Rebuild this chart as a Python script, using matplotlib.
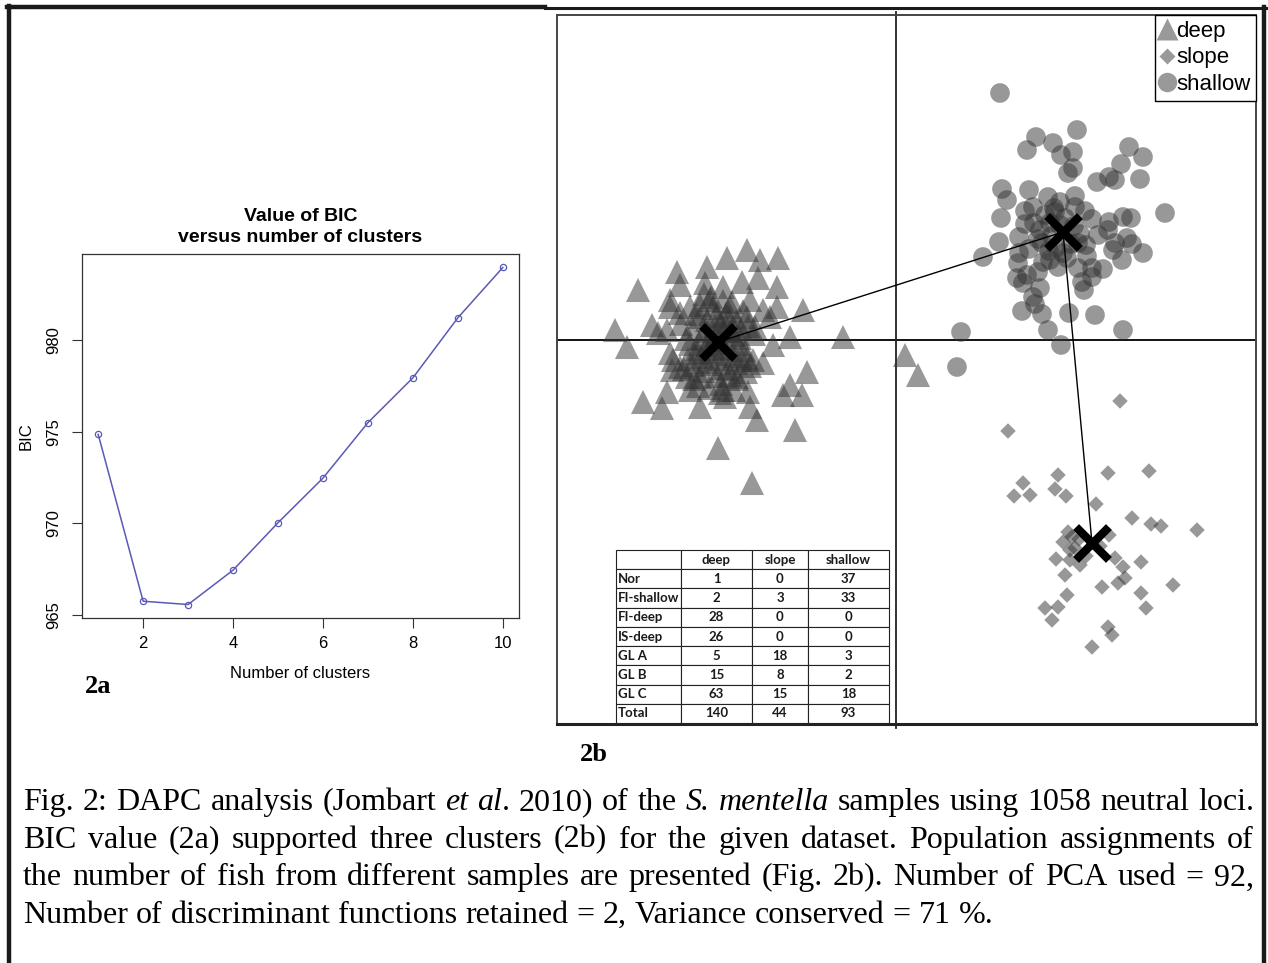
import matplotlib.pyplot as plt
from matplotlib.lines import Line2D
from matplotlib.table import Table

W, H = 1268, 963

# ---- 2a: BIC curve
clusters = [1, 2, 3, 4, 5, 6, 7, 8, 9, 10]
bic = [974.87, 965.75, 965.57, 967.45, 970.04, 972.48, 975.51, 977.96, 981.24, 983.99]

# ---- 2b: DAPC scores (LD1, LD2)
deep_pts = [
    (-14.9, 9.0), (-16.9, 8.2), (-13.6, 8.0), (-11.8, 8.2), (-21.9, 6.8), (-18.9, 7.3),
    (-25.8, 5.0), (-15.4, 5.8), (-13.8, 6.2), (-11.9, 5.3), (-21.6, 5.5), (-19.1, 5.7),
    (-17.3, 5.3), (-22.6, 4.0), (-20.6, 3.3), (-14.6, 4.0), (-11.9, 3.3), (-9.3, 3.0),
    (-13.3, 3.0), (-28.1, 1.0), (-26.9, -0.7), (-24.4, 1.5), (-22.9, 1.0), (-21.6, 2.7),
    (-10.6, 0.3), (-5.3, 0.3), (-12.3, -0.5), (-22.6, -1.3), (-21.6, -2.7), (-22.4, -3.0),
    (-19.9, -1.3), (-14.3, -2.0), (-13.3, -2.3), (-8.9, -3.2), (-10.6, -4.5), (-11.3, -5.5),
    (-9.4, -5.5), (-25.3, -6.2), (-22.9, -5.2), (-23.4, -6.8), (-20.6, -5.0), (-19.6, -6.7),
    (-17.1, -5.7), (-17.3, -5.0), (-14.8, -5.2), (-14.6, -6.7), (-13.9, -8.0), (-10.1, -9.0),
    (-17.8, -10.8), (-14.4, -14.3), (0.9, -1.5), (2.2, -3.5),
    (-22.6, 3.3), (-23.8, 0.7), (-22.3, -2.0), (-20.9, -3.7), (-15.9, -3.7), (-15.4, -2.0),
    (-19.6, -3.7), (-14.1, 1.3), (-12.6, 2.3), (-16.6, 3.3), (-18.6, 4.0), (-19.6, 2.3),
    (-14.9, 2.3),
    (-18.0, 0.5), (-17.2, -0.8), (-18.8, -1.2), (-16.5, 0.9), (-19.5, 0.2), (-17.6, 1.8),
    (-16.1, -1.6), (-18.4, -2.4), (-19.9, -0.9), (-15.6, 0.2), (-17.0, 2.6), (-18.9, 2.0),
    (-20.4, 1.2), (-16.8, -2.9), (-15.2, -1.0), (-19.3, -3.1), (-17.9, -3.6), (-20.8, -1.9),
    (-16.0, 1.9), (-18.3, 3.2), (-14.8, 1.4), (-21.0, 0.1), (-17.5, -4.4), (-15.9, -3.9),
    (-19.6, 3.5), (-16.4, 3.8), (-18.7, -4.8), (-20.2, -3.9), (-14.6, -2.6), (-17.1, 0.0),
    (-18.2, -0.3), (-16.9, 1.2), (-19.1, 0.9), (-17.7, -1.9), (-15.8, -0.4), (-20.0, 2.6),
    (-14.2, 0.6), (-18.5, 4.3), (-16.2, -5.0), (-21.2, -2.9), (-17.3, 3.9), (-15.3, 2.9),
    (-19.8, -4.6), (-16.6, -3.5), (-18.1, 1.4), (-17.4, -2.8), (-20.6, -0.4), (-15.0, -3.2),
    (-19.0, -2.2), (-16.3, 0.5), (-17.8, -0.9), (-18.6, 0.0), (-17.0, -1.4), (-16.7, 2.2),
    (-19.4, -1.7), (-18.0, 2.4), (-15.5, 1.1), (-20.3, -2.5), (-16.0, -2.3), (-19.2, 4.6),
    (-17.6, -5.3), (-14.9, -1.8), (-21.5, 1.6), (-18.9, -0.5), (-17.3, 0.9),
]
slope_pts = [
    (22.4, -6.1), (11.2, -9.1), (16.2, -13.5), (21.2, -13.3), (25.3, -13.1), (12.7, -14.3),
    (13.4, -15.5), (11.8, -15.6), (15.9, -14.9), (17.0, -15.6), (20.0, -16.4), (23.6, -17.8),
    (25.5, -18.4), (26.5, -18.6), (30.1, -19.0), (17.2, -19.2), (17.6, -19.7), (17.4, -21.0),
    (16.0, -21.9), (17.4, -22.0), (18.4, -22.5), (21.9, -21.8), (22.7, -22.7), (24.5, -22.2),
    (16.9, -23.5), (22.9, -23.8), (22.2, -24.3), (20.6, -24.7), (27.7, -24.5), (24.5, -25.3),
    (17.1, -25.5), (14.9, -26.8), (16.2, -26.7), (25.0, -26.8), (15.6, -28.0), (21.2, -28.7),
    (21.6, -29.5), (19.6, -30.7), (18.3, -19.9), (20.4, -20.6), (17.9, -20.8), (21.3, -19.5),
    (19.0, -21.6), (16.7, -20.2),
]
shallow_pts = [
    (10.4, 24.7), (18.1, 21.0), (14.0, 20.3), (13.1, 19.0), (15.7, 19.7), (16.5, 18.5),
    (17.7, 18.8), (17.2, 16.7), (17.7, 17.2), (23.3, 19.3), (24.7, 18.3), (22.5, 17.6),
    (21.3, 16.3), (20.1, 15.8), (21.9, 16.0), (24.4, 16.1), (10.6, 15.1), (11.1, 14.0),
    (13.3, 15.0), (15.2, 14.3), (16.4, 13.8), (17.9, 13.3), (13.7, 13.3), (10.5, 12.2),
    (12.9, 11.6), (13.8, 11.7), (19.6, 12.1), (21.3, 11.8), (22.7, 12.3), (23.5, 12.2),
    (26.9, 12.7), (21.2, 11.0), (10.3, 9.8), (12.3, 10.3), (14.4, 11.0), (15.4, 11.7),
    (15.9, 12.8), (14.6, 9.7), (18.2, 9.7), (19.0, 9.5), (21.9, 9.7), (23.1, 10.2),
    (23.6, 9.6), (24.7, 8.7), (22.6, 8.0), (21.7, 9.0), (8.7, 8.3), (12.3, 8.7),
    (12.2, 7.7), (14.2, 6.8), (15.4, 8.0), (16.7, 8.7), (18.2, 7.2), (19.6, 7.2),
    (20.7, 7.1), (12.1, 6.2), (13.1, 6.5), (14.4, 5.2), (13.7, 4.3), (12.7, 5.7),
    (18.6, 5.8), (19.6, 6.3), (12.6, 2.9), (14.6, 2.6), (17.3, 2.7), (19.9, 2.5),
    (15.2, 1.0), (22.7, 1.0), (6.5, 0.8), (16.5, -0.5), (6.1, -2.7),
    (15.6, 10.4), (16.9, 12.2), (17.8, 11.4), (16.0, 9.2), (17.5, 9.6), (14.9, 12.5),
    (18.4, 10.6), (15.3, 8.9), (16.4, 11.5), (17.1, 8.2), (14.2, 10.1), (18.9, 12.9),
    (15.8, 13.2), (13.3, 9.1), (17.9, 14.4), (16.2, 7.3), (19.1, 8.4), (14.7, 7.8),
    (20.2, 10.5), (12.9, 12.9), (18.8, 5.0), (13.9, 3.6),
]
groups = ["deep", "slope", "shallow"]
centroid_x = [-17.8, 19.6, 16.7]
centroid_y = [-0.2, -20.3, 10.8]
mst_edges = [(0, 2), (2, 1)]

# ---- assignment table
table_cols = ["", "deep", "slope", "shallow"]
table_rows = ["Nor", "FI-shallow", "FI-deep", "IS-deep", "GL A", "GL B", "GL C", "Total"]
deep_counts = [1, 2, 28, 26, 5, 15, 63, 140]
slope_counts = [0, 3, 0, 0, 18, 8, 15, 44]
shallow_counts = [37, 33, 0, 0, 3, 2, 18, 93]

caption_lines = [
    "Fig. 2: DAPC analysis (Jombart _et_ _al_. 2010) of the _S._ _mentella_ samples using 1058 neutral loci.",
    "BIC value (2a) supported three clusters (2b) for the given dataset. Population assignments of",
    "the number of fish from different samples are presented (Fig. 2b). Number of PCA used = 92,",
    "Number of discriminant functions retained = 2, Variance conserved = 71 %.",
]


def rect(x0, y0, x1, y1):
    return [x0 / W, 1 - y1 / H, (x1 - x0) / W, (y1 - y0) / H]


plt.rcParams['font.family'] = ['Liberation Sans', 'DejaVu Sans']
fig = plt.figure(figsize=(W / 100, H / 100), dpi=100)

# outer page frame
for xs, ys, lw in [([7, 545], [7, 7], 3.2), ([545, 1266], [8, 8], 2.2),
                   ([9, 9], [6, 963], 3.2), ([1264, 1264], [7, 963], 3.2)]:
    fig.add_artist(Line2D([x / W for x in xs], [1 - y / H for y in ys],
                          color='#1a1a1a', lw=lw, transform=fig.transFigure))

# ---------- 2a
ax1 = fig.add_axes(rect(82, 254, 519, 618))
ax1.plot(clusters, bic, color='#5a5ab6', lw=1.1, marker='o', mfc='none', ms=4.5, mew=0.9)
ax1.margins(x=0.04, y=0.04)
ax1.set_xticks([2, 4, 6, 8, 10])
ax1.set_yticks([965, 970, 975, 980])
ax1.set_yticklabels(['965', '970', '975', '980'], rotation=90, va='center')
ax1.tick_params(axis='both', labelsize=12, length=7, width=0.8, color='#333333')
ax1.tick_params(axis='y', pad=8)
ax1.tick_params(axis='x', pad=6)
for s in ax1.spines.values():
    s.set_color('#333333')
    s.set_linewidth(0.9)
ax1.set_title("Value of BIC\nversus number of clusters", fontsize=14, fontweight='bold',
              linespacing=1.3, pad=9)
ax1.set_xlabel("Number of clusters", fontsize=12, labelpad=11)
ax1.set_ylabel("BIC", fontsize=12, labelpad=9)
fig.text(85 / W, 1 - 693 / H, "2a", fontsize=19, fontweight='bold',
         family='Liberation Serif', va='baseline')

# ---------- 2b
ax2 = fig.add_axes(rect(557, 15, 1256, 724))
ax2.set_xlim(-33.9, 36.0)
ax2.set_ylim(-38.4, 32.5)
ax2.set_xticks([])
ax2.set_yticks([])
for s in ax2.spines.values():
    s.set_color('#444444')
    s.set_linewidth(1.4)
ax2.spines['bottom'].set_linewidth(2.2)
ax2.spines['bottom'].set_color('#222222')

ax2.axhline(0, color='black', lw=1.3, zorder=1)
ax2.plot([0, 0], [-38.8, 32.8], color='#222222', lw=1.3, clip_on=False, zorder=1)

markers = {'deep': ('^', 300), 'slope': ('D', 62), 'shallow': ('o', 200)}
for name, pts in zip(groups, [deep_pts, slope_pts, shallow_pts]):
    m, size = markers[name]
    ax2.scatter([p[0] for p in pts], [p[1] for p in pts], marker=m, s=size,
                color='#333333', alpha=0.5, edgecolors='none', zorder=2)

for a, b in mst_edges:
    ax2.plot([centroid_x[a], centroid_x[b]], [centroid_y[a], centroid_y[b]],
             color='black', lw=1.0, zorder=3)
ax2.scatter(centroid_x, centroid_y, marker='x', s=560, linewidths=6, color='black', zorder=4)

handles = [Line2D([], [], ls='none', marker='^', ms=16, color='#999999', mec='none'),
           Line2D([], [], ls='none', marker='D', ms=8, color='#999999', mec='none'),
           Line2D([], [], ls='none', marker='o', ms=14, color='#999999', mec='none')]
leg = ax2.legend(handles, groups, loc='upper right', bbox_to_anchor=(1, 1), borderaxespad=0,
                 fontsize=16, frameon=True, fancybox=False, edgecolor='black',
                 handlelength=0.6, handletextpad=0.1, labelspacing=0.26, borderpad=0.25)
leg.get_frame().set_linewidth(1.0)
leg.get_frame().set_alpha(1)

# table of assignments
axt = fig.add_axes(rect(616, 550, 889, 723))
axt.axis('off')
tb = Table(axt, bbox=[0, 0, 1, 1])
col_w = [65, 71, 56, 81]
col_w = [w / sum(col_w) for w in col_w]
rows_all = [table_cols] + [[r, str(d), str(s), str(h)] for r, d, s, h in
                           zip(table_rows, deep_counts, slope_counts, shallow_counts)]
rh = 1 / len(rows_all)
for i, row in enumerate(rows_all):
    for j, txt in enumerate(row):
        c = tb.add_cell(i, j, col_w[j], rh, text=txt, loc='left' if j == 0 else 'center')
        c.set_edgecolor('#222222')
        c.set_linewidth(0.8)
        c.PAD = 0.03
        c.get_text().set_fontfamily('Lato')
        c.get_text().set_fontweight('bold')
        c.get_text().set_color('#1a1a1a')
tb.auto_set_font_size(False)
tb.set_fontsize(9.5)
axt.add_table(tb)

fig.text(580 / W, 1 - 761 / H, "2b", fontsize=19, fontweight='bold',
         family='Liberation Serif', va='baseline')

# ---------- justified caption
renderer = fig.canvas.get_renderer()
x_left, x_right = 23, 1254
baselines = [810, 847.7, 885.4, 923]
cap_size = 23
for i, line in enumerate(caption_lines):
    y = 1 - baselines[i] / H
    tokens = []
    for word in line.split(' '):
        segs = []
        for k, part in enumerate(word.split('_')):
            if part:
                t = fig.text(0, y, part, fontsize=cap_size, family='Liberation Serif',
                             style='italic' if k % 2 else 'normal', va='baseline')
                segs.append((t, t.get_window_extent(renderer).width))
        tokens.append(segs)
    widths = [sum(w for _, w in segs) for segs in tokens]
    if i < len(caption_lines) - 1:
        gap = (x_right - x_left - sum(widths)) / (len(tokens) - 1)
    else:
        gap = cap_size * 100 / 72 * 0.25
    x = x_left
    for segs, w in zip(tokens, widths):
        for t, sw in segs:
            t.set_x(x / W)
            x += sw
        x += gap

fig.savefig('out.png', dpi=100)
